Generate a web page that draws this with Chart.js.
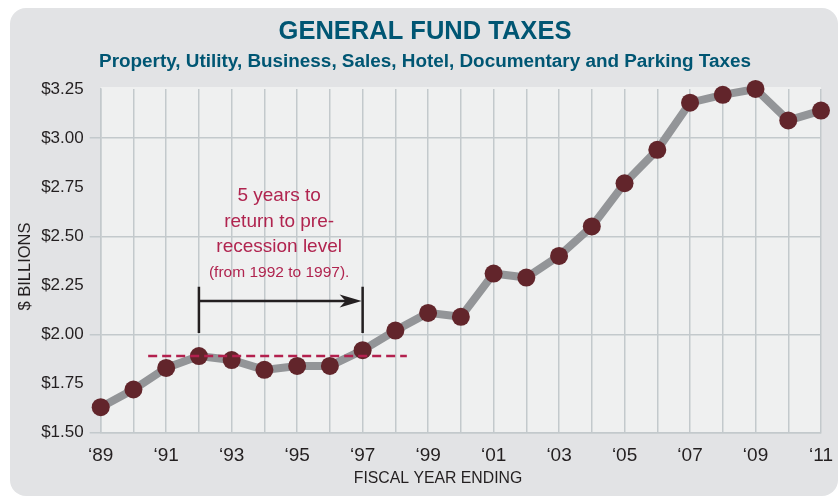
<!DOCTYPE html>
<html><head><meta charset="utf-8">
<script src="https://cdn.jsdelivr.net/npm/chart.js@4.4.1/dist/chart.umd.min.js"></script>
<style>html,body{margin:0;padding:0;background:#fff}canvas{display:block}</style>
</head><body>
<canvas id="c" width="839" height="500"></canvas>
<script>
// ---- data ----
const years = [1989,1990,1991,1992,1993,1994,1995,1996,1997,1998,1999,2000,2001,2002,2003,2004,2005,2006,2007,2008,2009,2010,2011];
const taxes = [1.63,1.72,1.83,1.89,1.87,1.82,1.84,1.84,1.92,2.02,2.11,2.09,2.31,2.29,2.40,2.55,2.77,2.94,3.18,3.22,3.25,3.09,3.14];
const xLabelYears = [1989,1991,1993,1995,1997,1999,2001,2003,2005,2007,2009,2011];
const xTickLabels = ["‘89","‘91","‘93","‘95","‘97","‘99","‘01","‘03","‘05","‘07","‘09","‘11"];
const yTickLabels = ["$1.50","$1.75","$2.00","$2.25","$2.50","$2.75","$3.00","$3.25"];
const preRecessionLevel = 1.89;
const dashedRange = [1990.45, 1998.35];
const bracketYears = [1992, 1997];
const bracketSpan = [2.008, 2.243];
const arrowLevel = 2.17;
const noteAnchor = [1994.45, 2.704];
const noteLines = ["5 years to","return to pre-","recession level","(from 1992 to 1997)."];
const xAxisTitle = 'FISCAL YEAR ENDING';
const yAxisTitle = '$ BILLIONS';

const FONT = "'Liberation Sans', Arial, sans-serif";
Chart.defaults.font.family = FONT;
const gridColor = '#c3c9cc';
const textColor = '#231f20';

const backdrop = {
  id: 'backdrop',
  beforeDraw(chart) {
    const {ctx, chartArea: a} = chart;
    ctx.save();
    ctx.fillStyle = '#e2e3e5';
    ctx.beginPath();
    ctx.roundRect(10, 8, 828, 488, 16);
    ctx.fill();
    ctx.fillStyle = '#eff0f0';
    ctx.fillRect(a.left, a.top - 2, a.right - a.left, a.bottom - a.top + 2);
    ctx.restore();
  }
};

const axisTitles = {
  id: 'axisTitles',
  afterDraw(chart) {
    const {ctx} = chart;
    ctx.save();
    ctx.fillStyle = textColor;
    ctx.textAlign = 'center';
    ctx.textBaseline = 'middle';
    ctx.font = '15.8px ' + FONT;
    ctx.fillText(xAxisTitle, 438, 479);
    ctx.translate(25, 266.5);
    ctx.rotate(-Math.PI / 2);
    ctx.font = '16.5px ' + FONT;
    ctx.fillText(yAxisTitle, 0, 0);
    ctx.restore();
  }
};

const annot = {
  id: 'annot',
  afterDatasetsDraw(chart) {
    const {ctx, scales: {x, y}} = chart;
    ctx.save();
    ctx.strokeStyle = '#b3204e';
    ctx.lineWidth = 2.5;
    ctx.setLineDash([9, 5]);
    const yd = y.getPixelForValue(preRecessionLevel);
    ctx.beginPath();
    ctx.moveTo(x.getPixelForValue(dashedRange[0]), yd);
    ctx.lineTo(x.getPixelForValue(dashedRange[1]), yd);
    ctx.stroke();
    ctx.setLineDash([]);
    const x1 = x.getPixelForValue(bracketYears[0]), x2 = x.getPixelForValue(bracketYears[1]);
    const yb = y.getPixelForValue(bracketSpan[0]), yt = y.getPixelForValue(bracketSpan[1]);
    const ya = y.getPixelForValue(arrowLevel);
    ctx.strokeStyle = textColor;
    ctx.fillStyle = textColor;
    ctx.lineWidth = 2.5;
    ctx.beginPath();
    ctx.moveTo(x1, yt); ctx.lineTo(x1, yb);
    ctx.moveTo(x2, yt); ctx.lineTo(x2, yb);
    ctx.moveTo(x1, ya); ctx.lineTo(x2 - 12, ya);
    ctx.stroke();
    ctx.beginPath();
    ctx.moveTo(x2 - 1, ya);
    ctx.lineTo(x2 - 23, ya - 6.5);
    ctx.lineTo(x2 - 17, ya);
    ctx.lineTo(x2 - 23, ya + 6.5);
    ctx.closePath();
    ctx.fill();
    ctx.fillStyle = '#b0244f';
    ctx.textAlign = 'center';
    ctx.textBaseline = 'middle';
    const nx = x.getPixelForValue(noteAnchor[0]);
    const ny = y.getPixelForValue(noteAnchor[1]);
    noteLines.forEach((t, i) => {
      ctx.font = (i === 3 ? '15.5px ' : '19px ') + FONT;
      ctx.fillText(t, nx, ny + i * 25.5);
    });
    ctx.restore();
  }
};

new Chart(document.getElementById('c'), {
  type: 'line',
  data: {
    datasets: [{
      data: years.map((yr, i) => ({x: yr, y: taxes[i]})),
      borderColor: '#939598',
      borderWidth: 8,
      tension: 0,
      pointRadius: 9,
      pointHoverRadius: 9,
      pointBackgroundColor: '#62252b',
      pointBorderWidth: 0,
      clip: false
    }]
  },
  options: {
    responsive: false,
    animation: false,
    events: [],
    layout: {padding: {left: 11, right: 0, top: 0, bottom: 0}},
    plugins: {
      legend: {display: false},
      tooltip: {enabled: false},
      title: {
        display: true,
        text: 'GENERAL FUND TAXES',
        color: '#005673',
        font: {size: 25.5, weight: 'bold', family: FONT},
        padding: {top: 16.2, bottom: 0}
      },
      subtitle: {
        display: true,
        text: 'Property, Utility, Business, Sales, Hotel, Documentary and Parking Taxes',
        color: '#005673',
        font: {size: 18.9, weight: 'bold', family: FONT},
        padding: {top: 3.85, bottom: 15.65}
      }
    },
    scales: {
      x: {
        type: 'linear',
        min: 1989, max: 2011,
        afterFit: s => { s.height = 67.3; s.paddingRight = 18; },
        grid: {color: gridColor, lineWidth: 1.5, drawTicks: false},
        border: {display: true, color: gridColor, width: 1.5},
        ticks: {
          stepSize: 1, autoSkip: false, maxRotation: 0, padding: 12,
          color: textColor, font: {size: 19},
          callback: v => { const k = xLabelYears.indexOf(v); return k >= 0 ? xTickLabels[k] : ''; }
        },
        title: {display: false}
      },
      y: {
        min: 1.5, max: 3.25,
        afterFit: s => { s.width = 89.7; },
        grid: {
          lineWidth: 1.5, tickLength: 11,
          color: c => (c.tick && Math.abs(c.tick.value * 2 - Math.round(c.tick.value * 2)) < 1e-6) ? gridColor : 'rgba(0,0,0,0)'
        },
        border: {display: true, color: gridColor, width: 1.5},
        ticks: {
          stepSize: 0.25, padding: 6, color: textColor, font: {size: 17},
          callback: (v, i) => yTickLabels[i]
        },
        title: {display: false}
      }
    }
  },
  plugins: [backdrop, annot, axisTitles]
});
</script>
</body></html>
